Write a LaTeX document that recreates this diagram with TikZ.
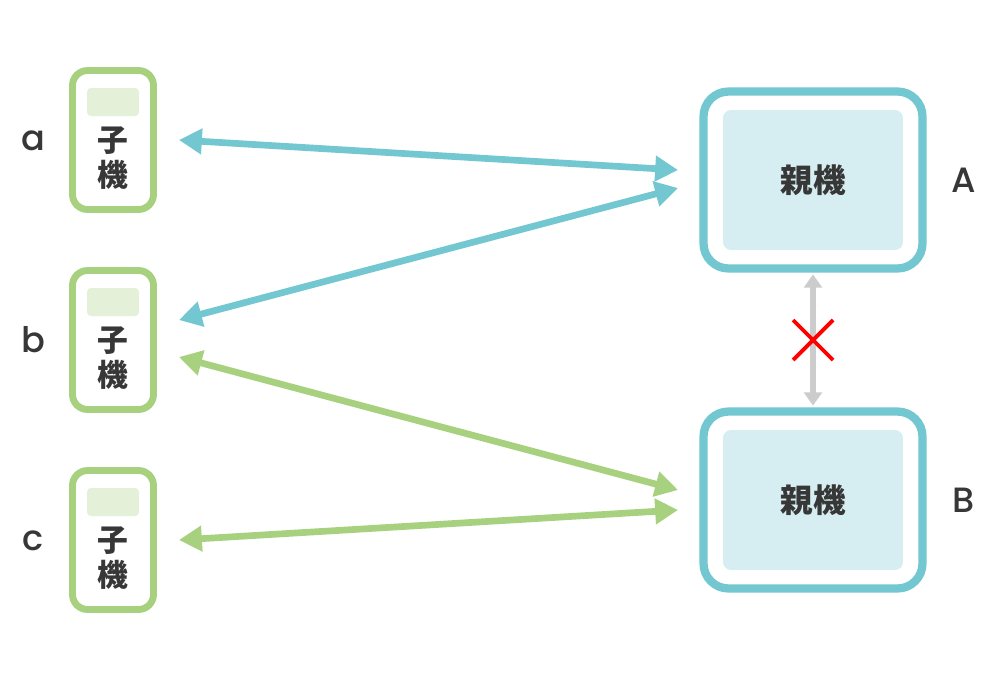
\documentclass[tikz,border=0pt]{standalone}
\usepackage{fontspec}
\usepackage{xcolor}
\usetikzlibrary{arrows.meta}
\newfontfamily\cjk{Noto Sans CJK JP}
\newfontfamily\latin{Poppins}[UprightFont={* Medium}]
\definecolor{linkblue}{RGB}{114, 199, 209}
\definecolor{linkgreen}{RGB}{167, 209, 127}
\definecolor{screengreen}{RGB}{228, 240, 216}
\definecolor{screenblue}{RGB}{214, 238, 242}
\definecolor{textgray}{RGB}{55, 55, 55}
\definecolor{blockgray}{RGB}{204, 204, 204}

\begin{document}
\begin{tikzpicture}[
    x=0.02cm, y=-0.02cm,
    child/.style={rectangle, rounded corners=0.3cm, minimum width=1.62cm, minimum height=2.78cm, draw=linkgreen, line width=3.9pt, fill=white},
    childscreen/.style={rectangle, rounded corners=0.08cm, minimum width=1.04cm, minimum height=0.56cm, fill=screengreen, inner sep=0pt},
    childtext/.style={font=\cjk\bfseries\fontsize{17.5}{19.8}\selectfont, text=textgray, align=center, inner sep=0pt},
    parent/.style={rectangle, rounded corners=0.5cm, minimum width=4.38cm, minimum height=3.54cm, draw=linkblue, line width=4.7pt, fill=white},
    parentscreen/.style={rectangle, rounded corners=0.16cm, minimum width=3.6cm, minimum height=2.8cm, fill=screenblue, inner sep=0pt, font=\cjk\bfseries\fontsize{18.5}{20}\selectfont, text=textgray},
    letter/.style={font=\latin\fontsize{20}{22}\selectfont, text=textgray},
    link/.style={{Triangle[length=13pt, width=14pt]}-{Triangle[length=13pt, width=14pt]}, line width=3.8pt},
    blocked/.style={{Triangle[length=7.5pt, width=10pt]}-{Triangle[length=7.5pt, width=10pt]}, line width=3.6pt, draw=blockgray},
    cross/.style={draw=red, line width=2.2pt}
]

% Background
\useasboundingbox (0,0) rectangle (1000,680);
\fill[white] (0,0) rectangle (1000,680);

% Child devices
\node[child] (ka) at (113,140) {};
\node[child] (kb) at (113,340) {};
\node[child] (kc) at (113,540) {};
\node[childscreen] (ka-screen) at (113,102) {};
\node[childscreen] (kb-screen) at (113,302) {};
\node[childscreen] (kc-screen) at (113,502) {};
\node[childtext] (ka-text) at (113,158) {子\\機};
\node[childtext] (kb-text) at (113,358) {子\\機};
\node[childtext] (kc-text) at (113,558) {子\\機};

% Child labels
\node[letter] (la) at (33,141) {a};
\node[letter] (lb) at (33,340) {b};
\node[letter] (lc) at (33,541) {c};

% Parent devices
\node[parent] (pa) at (813,180) {};
\node[parent] (pb) at (813,500) {};
\node[parentscreen] (pa-screen) at (813,180) {親機};
\node[parentscreen] (pb-screen) at (813,500) {親機};

% Parent labels
\node[letter] (lpa) at (964,180) {A};
\node[letter] (lpb) at (964,500) {B};

% Arrow ends
\coordinate (ka-end) at (179,140);
\coordinate (kb-end1) at (179,320);
\coordinate (kb-end2) at (179,357);
\coordinate (kc-end) at (179,540);
\coordinate (pa-end1) at (678,170);
\coordinate (pa-end2) at (678,188);
\coordinate (pb-end1) at (678,490);
\coordinate (pb-end2) at (678,510);

% Links
\draw[link, linkblue] (ka-end) -- (pa-end1);
\draw[link, linkblue] (kb-end1) -- (pa-end2);
\draw[link, linkgreen] (kb-end2) -- (pb-end1);
\draw[link, linkgreen] (kc-end) -- (pb-end2);

% No link between parents
\draw[blocked, shorten <=1pt, shorten >=1pt] (pa.south) -- (pb.north);
\coordinate (x) at (813,340);
\draw[cross] (x) ++(-20,-20) -- ++(40,40);
\draw[cross] (x) ++(20,-20) -- ++(-40,40);

\end{tikzpicture}
\end{document}
